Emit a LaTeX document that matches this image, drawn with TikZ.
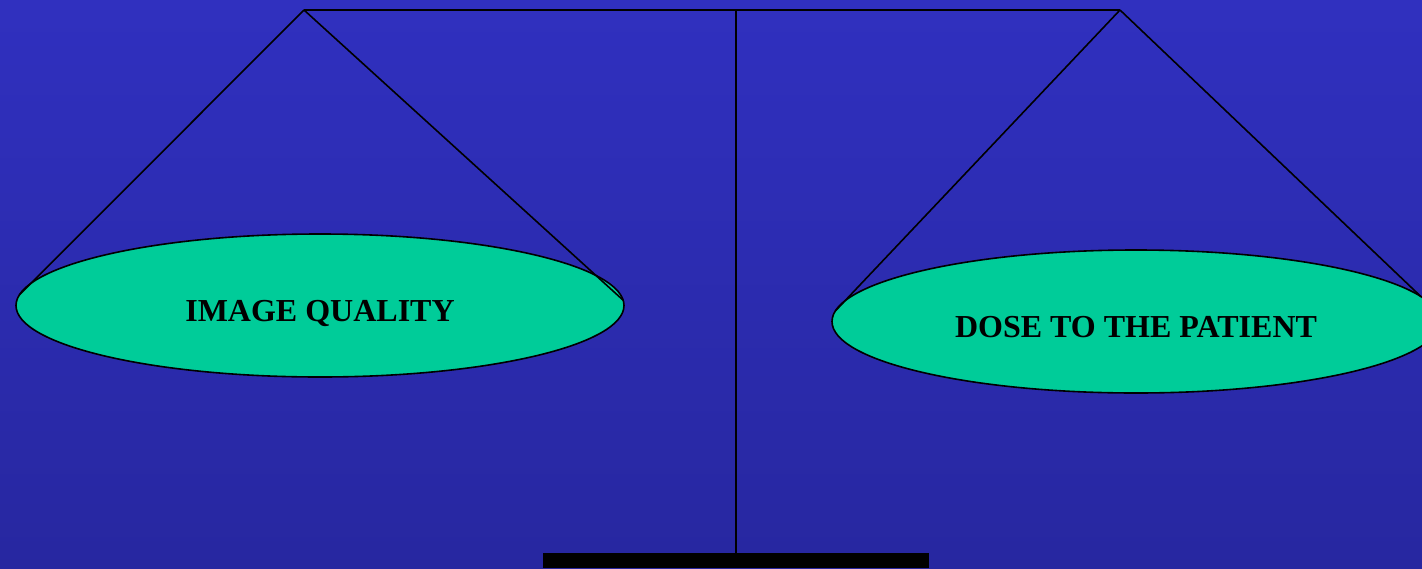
\documentclass[tikz,border=0pt]{standalone}
\usepackage{fontspec}
\setmainfont{Liberation Serif}
\usepackage{xcolor}
\definecolor{colSkyTop}{HTML}{3030BF}
\definecolor{colSkyBottom}{HTML}{2727A0}
\definecolor{colPan}{HTML}{00CC99}
\usetikzlibrary{shapes.geometric, positioning}
\tikzset{
    pan/.style={
        ellipse, draw=black, fill=colPan,
        line width=1.6pt,
        minimum width=608pt, minimum height=143pt,
        inner sep=0pt, outer sep=0pt,
        font=\fontsize{32}{32}\selectfont\bfseries,
        text height=32pt, text depth=0pt
    },
    cord/.style={line width=1.6pt, draw=black},
}

\begin{document}
\begin{tikzpicture}[x=1pt, y=-1pt]
    \shade[top color=colSkyTop, bottom color=colSkyBottom] (0,0) rectangle (1422,568);
    \useasboundingbox (0,0) rectangle (1422,568);

    % Beam and post
    \coordinate (pivL) at (304,10);
    \coordinate (pivR) at (1120,10);
    \coordinate (top) at (736,10);
    \coordinate (foot) at (736,553);
    \draw[cord] (pivL) -- (pivR);
    \draw[cord] (top) -- (foot);
    \node[fill=black, minimum width=386pt, minimum height=15pt, inner sep=0pt,
          below=0pt of foot] (base) {};

    % Pans
    \node[pan] (iq) at (320,305.5) {IMAGE QUALITY};
    \node[pan] (dose) at (1136,321.5) {DOSE TO THE PATIENT};

    % Strings
    \draw[cord] (pivL) -- (iq.178.4);
    \draw[cord] (pivL) -- (iq.1.4);
    \draw[cord] (pivR) -- (dose.178.4);
    \draw[cord] (pivR) -- (dose.5.3);
\end{tikzpicture}
\end{document}
